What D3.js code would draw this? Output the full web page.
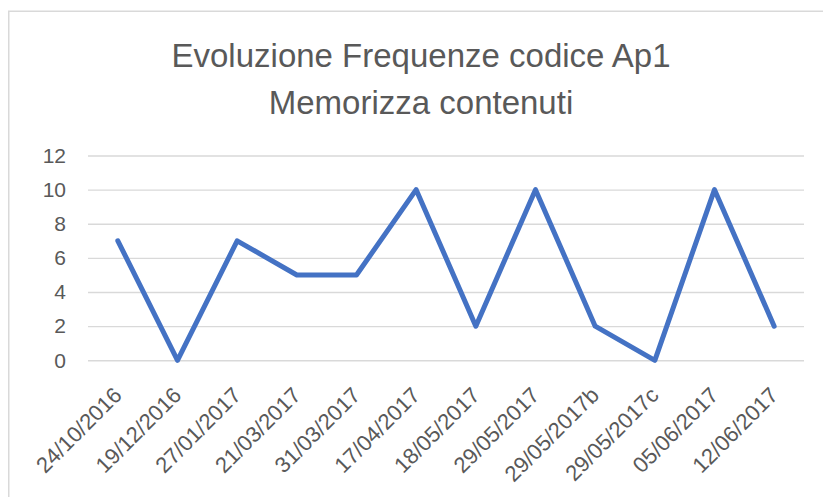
<!DOCTYPE html>
<html>
<head>
<meta charset="utf-8">
<script src="https://cdn.jsdelivr.net/npm/d3@7"></script>
<style>
  html, body { margin: 0; padding: 0; background: #ffffff; }
  svg { display: block; }
</style>
</head>
<body>
<div id="chart"></div>
<script>
// ---- data ----
const titleLines = ["Evoluzione Frequenze codice Ap1", "Memorizza contenuti"];
const categories = ["24/10/2016", "19/12/2016", "27/01/2017", "21/03/2017", "31/03/2017", "17/04/2017",
  "18/05/2017", "29/05/2017", "29/05/2017b", "29/05/2017c", "05/06/2017", "12/06/2017"];
const values = [7, 0, 7, 5, 5, 10, 2, 10, 2, 0, 10, 2];
const yTicks = [0, 2, 4, 6, 8, 10, 12];

// ---- layout ----
const W = 823, H = 497;
const plot = { left: 88, right: 804, top: 155.5, bottom: 360.3 };
const textColor = "#595959";
const gridColor = "#d9d9d9";
const lineColor = "#4472C4";
const fontFamily = "'Liberation Sans', Arial, sans-serif";

const svg = d3.select("#chart").append("svg")
  .attr("width", W).attr("height", H);

// chart frame (extends past the visible window on right/bottom)
svg.append("rect")
  .attr("x", 8.75).attr("y", 11.25)
  .attr("width", W + 20).attr("height", H + 20)
  .attr("fill", "none")
  .attr("stroke", gridColor)
  .attr("stroke-width", 1.5);

const x = d3.scaleBand().domain(categories).range([plot.left, plot.right]).padding(0);
const y = d3.scaleLinear().domain([0, 12]).range([plot.bottom, plot.top]);

// gridlines + y axis labels
const yAxis = d3.axisLeft(y).tickValues(yTicks).tickSize(-(plot.right - plot.left)).tickPadding(22);
const gy = svg.append("g").attr("transform", `translate(${plot.left},0)`).call(yAxis);
gy.select(".domain").remove();
gy.selectAll(".tick line").attr("stroke", gridColor).attr("stroke-width", 1.4);
gy.selectAll(".tick text")
  .attr("fill", textColor)
  .attr("font-family", fontFamily)
  .attr("font-size", "21px");

// x axis labels (rotated)
const xAxis = d3.axisBottom(x).tickSize(0).tickPadding(0);
const gx = svg.append("g").attr("transform", `translate(0,${plot.bottom})`).call(xAxis);
gx.select(".domain").remove();
gx.selectAll(".tick text")
  .attr("fill", textColor)
  .attr("font-family", fontFamily)
  .attr("font-size", "22px")
  .attr("text-anchor", "end")
  .attr("y", 0)
  .attr("dy", "0.72em")
  .attr("transform", "translate(-6,25) rotate(-45)");

// line
const line = d3.line()
  .x((d, i) => x(categories[i]) + x.bandwidth() / 2)
  .y(d => y(d));

svg.append("path")
  .datum(values)
  .attr("d", line)
  .attr("fill", "none")
  .attr("stroke", lineColor)
  .attr("stroke-width", 5)
  .attr("stroke-linejoin", "round")
  .attr("stroke-linecap", "round");

// title
const title = svg.append("text")
  .attr("text-anchor", "middle")
  .attr("fill", textColor)
  .attr("font-family", fontFamily)
  .attr("font-size", "33px");
title.selectAll("tspan")
  .data(titleLines)
  .join("tspan")
  .attr("x", 421)
  .attr("y", (d, i) => i === 0 ? 67 : 114)
  .text(d => d);
</script>
</body>
</html>
